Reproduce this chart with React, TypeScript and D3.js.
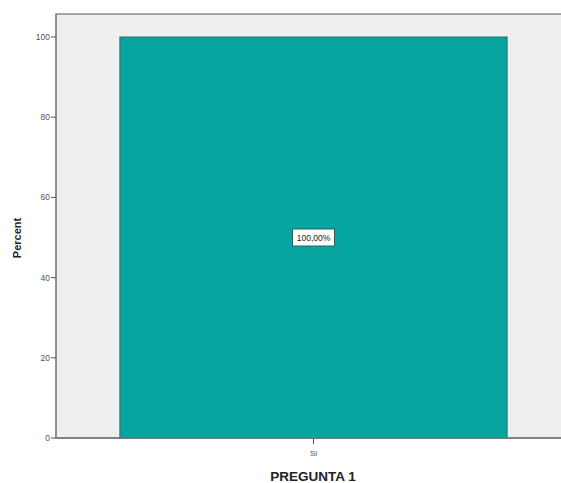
import React from "react";
import * as d3 from "d3";

const categories = ["Si"];
const percents = [100];
const barLabels = ["100,00%"];
const yTicks = [0, 20, 40, 60, 80, 100];

const W = 561;
const H = 483;
const left = 56;
const right = 571;
const top = 14;
const bottom = 438;

export default function App() {
  const x = d3.scaleBand<string>().domain(categories).range([left, right]).paddingInner(0).paddingOuter(0.165);
  const y = d3.scaleLinear().domain([0, 100]).range([bottom, 37]);
  const font = "'Liberation Sans', Arial, sans-serif";
  return (
    <svg width={W} height={H} style={{ position: "absolute", left: 0, top: 0, background: "#fff" }} fontFamily={font}>
      <rect x={left} y={top} width={right - left} height={bottom - top} fill="#efefef" stroke="#8a8a8a" strokeWidth={1.5} />
      {categories.map((c, i) => (
        <g key={c}>
          <rect x={x(c)!} y={y(percents[i])} width={x.bandwidth()} height={bottom - y(percents[i])} fill="#06a59f" stroke="#2f6d69" strokeWidth={1} />
          <rect x={x(c)! + x.bandwidth() / 2 - 21} y={y(percents[i] / 2) - 8.5} width={42} height={17} fill="#fff" stroke="#2f5f5c" strokeWidth={1} />
          <text x={x(c)! + x.bandwidth() / 2} y={y(percents[i] / 2) + 3} textAnchor="middle" fontSize={8.5} fill="#222">{barLabels[i]}</text>
          <line x1={x(c)! + x.bandwidth() / 2} x2={x(c)! + x.bandwidth() / 2} y1={bottom} y2={bottom + 6} stroke="#555" />
          <text x={x(c)! + x.bandwidth() / 2} y={456} textAnchor="middle" fontSize={8} fill="#555">{c}</text>
        </g>
      ))}
      <line x1={left} x2={right} y1={bottom} y2={bottom} stroke="#777" strokeWidth={1.5} />
      <line x1={left} x2={left} y1={top} y2={bottom} stroke="#8a8a8a" strokeWidth={1.5} />
      {yTicks.map((t) => (
        <g key={t}>
          <line x1={left - 5} x2={left} y1={y(t)} y2={y(t)} stroke="#555" />
          <text x={left - 6} y={y(t) + 3} textAnchor="end" fontSize={8.5} fill="#555">{t}</text>
        </g>
      ))}
      <text transform={`translate(21,238) rotate(-90)`} textAnchor="middle" fontSize={11} fontWeight="bold" fill="#222">Percent</text>
      <text x={313} y={481} textAnchor="middle" fontSize={13.5} fontWeight="bold" fill="#222">PREGUNTA 1</text>
    </svg>
  );
}
